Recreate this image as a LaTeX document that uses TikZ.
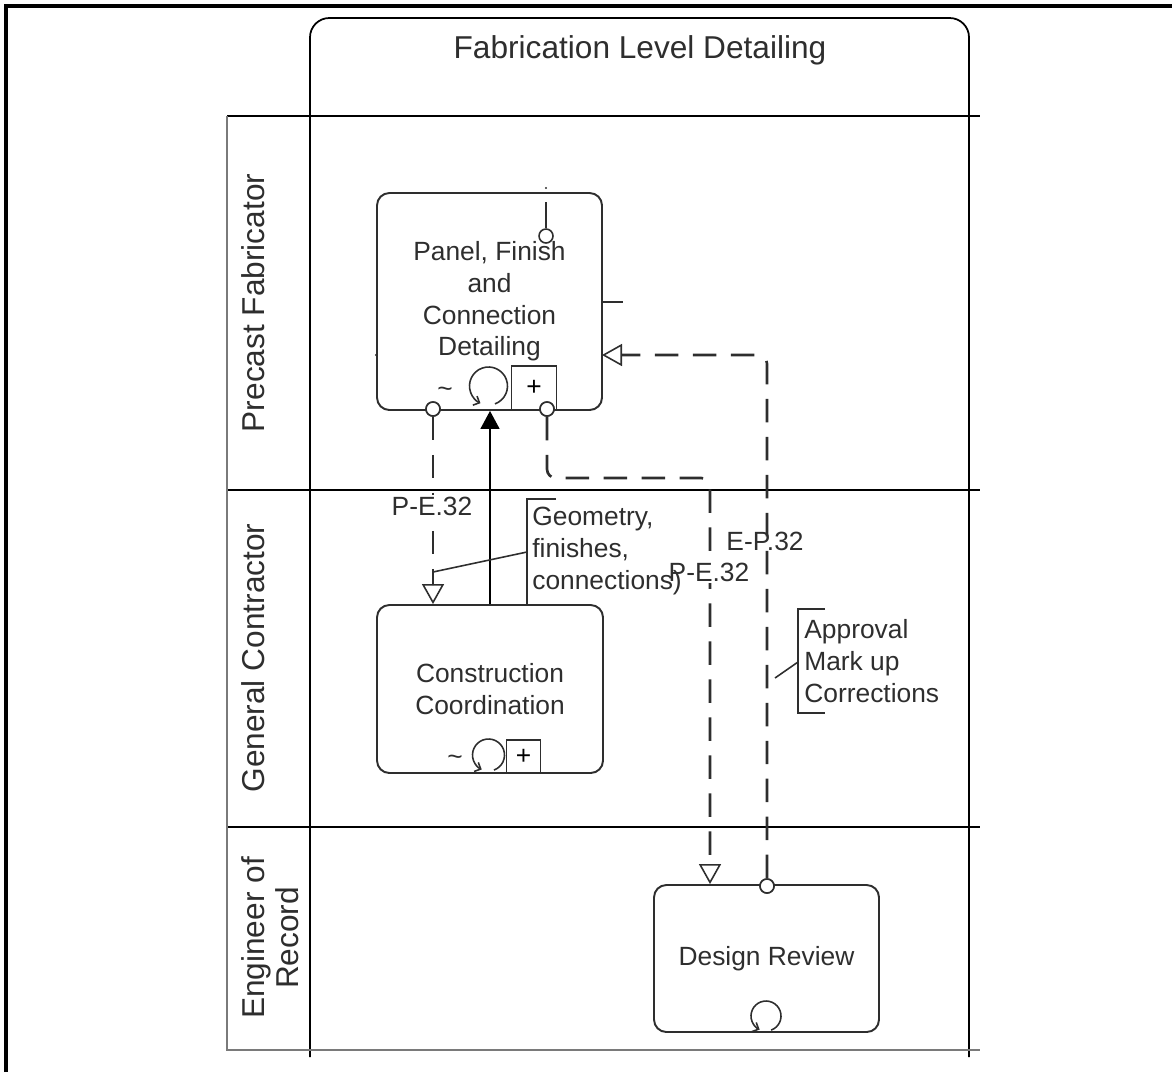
\documentclass[tikz,border=0pt]{standalone}
\usepackage{fontspec}
\setmainfont{Liberation Sans}
\usetikzlibrary{arrows.meta}

\definecolor{inkgray}{HTML}{2E2E2E}
\definecolor{lanegray}{HTML}{7A7A7A}

\begin{document}
\begin{tikzpicture}[
    x=0.02cm, y=-0.02cm,
    font=\fontsize{15}{18}\selectfont,
    task/.style={draw=inkgray, line width=1.1pt, rounded corners=7pt, align=center, text=inkgray, minimum width=4.5cm},
    port/.style={draw=inkgray, fill=white, circle, line width=0.9pt, inner sep=0pt, minimum size=0.28cm},
    flow/.style={draw=inkgray, line width=1.5pt, dash pattern=on 0.47cm off 0.29cm, rounded corners=5pt, -{Triangle[open, length=0.4cm, width=0.44cm, line width=0.9pt]}},
    seq/.style={draw=black, line width=0.9pt, -{Triangle[length=0.36cm, width=0.38cm]}},
    flowlabel/.style={text=inkgray, inner sep=1pt},
    note/.style={align=left, text=inkgray, inner sep=0pt, anchor=west},
    lane/.style={rotate=90, align=center, text=inkgray, font=\fontsize{18}{19}\selectfont},
    marker/.style={draw=inkgray, line width=0.9pt},
    loopmark/.style={marker, -{Straight Barb[length=0.1cm, width=0.2cm]}}
]
\useasboundingbox (0,0) rectangle (1172,1072);

% outer frame
\draw[line width=2.4pt] (6,1072) -- (6,6) -- (1172,6);

% pool and lanes
\draw[line width=1pt, rounded corners=11pt] (310,1057) -- (310,18) -- (969,18) -- (969,1057);
\node[text=inkgray, font=\fontsize{18}{21}\selectfont] (pool) at (640,50) {Fabrication Level Detailing};
\draw[line width=1pt] (227,116) -- (980,116);
\draw[line width=1pt] (227,490) -- (980,490);
\draw[line width=1.4pt] (227,827) -- (980,827);
\draw[draw=lanegray, line width=1.6pt] (227,116) -- (227,1050) -- (980,1050);

\node[lane] (fab) at (253,303) {Precast Fabricator};
\node[lane] (gc) at (253,658) {General Contractor};
\node[lane] (eor) at (270,938) {Engineer of\\Record};

% tasks
\node[task, minimum height=4.34cm] (panel) at (489.5,301.5) {Panel, Finish\\and\\Connection\\Detailing};
\node[task, minimum width=4.52cm, minimum height=3.36cm] (coord) at (490,689) {Construction\\Coordination};
\node[task, minimum height=2.94cm] (review) at (766.5,958.5) {Design Review};

% task markers
\node[text=inkgray, inner sep=0pt] (panTilde) at (445,392) {\textasciitilde};
\draw[loopmark] (488.5,386) ++(70:19) arc (70:-245:19);
\node[marker, minimum width=0.9cm, minimum height=0.88cm, inner sep=0pt] (panPlus) at (534,388) {+};
\node[text=inkgray, inner sep=0pt] (ccTilde) at (455,760) {\textasciitilde};
\draw[loopmark] (488.5,755) ++(70:16) arc (70:-245:16);
\node[marker, minimum width=0.68cm, minimum height=0.66cm, inner sep=0pt] (ccPlus) at (523.5,756.5) {+};
\draw[loopmark] (766,1016) ++(70:15) arc (70:-245:15);

% ports
\node[port] (pTop) at (546,236) {};
\coordinate (stubEnd) at (546,202);
\node[port] (pL) at (433,409) {};
\node[port] (pR) at (547,409) {};
\node[port] (pRev) at (767,886) {};
\coordinate (bendA) at (710,478);
\coordinate (erIn) at (602,355);

% stubs
\draw[marker, line width=1.2pt] (pTop) -- (stubEnd);
\fill[inkgray] (546,188) circle (1.2);
\fill[inkgray] (376,355) circle (1.2);
\draw[marker] (602,267) -- (602,302) -- (623,302);

% connectors
\draw[flow] (pL) -- (pL |- coord.north);
\draw[seq] (coord.north) -- (coord.north |- panel.south);
\draw[flow] (pR) |- (bendA) -- (bendA |- review.north);
\draw[flow] (pRev) |- (erIn);
\node[port] at (pL) {};
\node[port] at (pR) {};
\node[port] at (pRev) {};

\node[flowlabel, fill=white] (lblA) at (432,506) {P-E.32};
\node[flowlabel, fill=white] (lblB) at (709,572) {P-E.32};
\node[flowlabel] (lblC) at (765,541) {E-P.32};

% annotations
\node[note] (geo) at (532,551) {Geometry,\\finishes,\\connections)};
\draw[marker] (556,499) -- (527,499) -- (527,605) -- (556,605);
\coordinate (geoTip) at (433,572);
\draw[marker] (527,552) -- (geoTip) -- (433,585);

\node[note] (appr) at (804,661) {Approval\\Mark up\\Corrections};
\draw[marker] (825,609) -- (798,609) -- (798,713) -- (825,713);
\coordinate (apprTip) at (775,678);
\draw[marker] (798,662) -- (apprTip);

\end{tikzpicture}
\end{document}
